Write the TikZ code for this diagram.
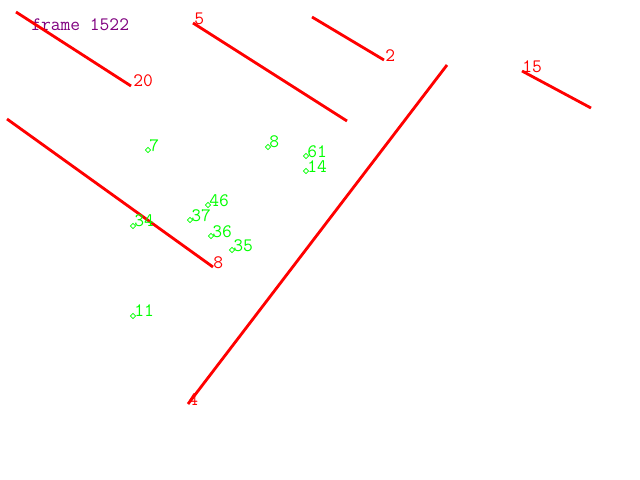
\documentclass[tikz,border=0pt]{standalone}
\usetikzlibrary{shapes.geometric}

\begin{document}
\begin{tikzpicture}[x=0.025cm,y=-0.025cm,
		seg/.style={draw=red,line width=2pt},
		seglbl/.style={anchor=base west,inner sep=0pt,text depth=0pt,text=red,font=\ttfamily\fontsize{13.5}{14}\selectfont},
		pt/.style={draw=green,diamond,inner sep=0pt,minimum size=0.14cm,line width=0.5pt},
		ptlbl/.style={anchor=base west,inner sep=0pt,text depth=0pt,text=green,font=\ttfamily\fontsize{13.5}{14}\selectfont}]
		\useasboundingbox[fill=white] (0,0) rectangle (640,480);
		\node[anchor=base west,inner sep=0pt,text={rgb,255:red,128;green,0;blue,128},font=\ttfamily\fontsize{13.5}{14}\selectfont] (frame) at (31,30) {frame 1522};
		% red segments
		\coordinate (a20) at (16,12);  \coordinate (b20) at (131,86);
		\draw[seg] (a20) -- (b20);
		\node[seglbl] (l20) at (133,87) {20};
		\coordinate (a5) at (193,23);  \coordinate (b5) at (347,121);
		\draw[seg] (a5) -- (b5);
		\node[seglbl] (l5) at (194,24) {5};
		\coordinate (a2) at (312,17);  \coordinate (b2) at (384,60);
		\draw[seg] (a2) -- (b2);
		\node[seglbl] (l2) at (385,61) {2};
		\coordinate (a15) at (522,71);  \coordinate (b15) at (591,108);
		\draw[seg] (a15) -- (b15);
		\node[seglbl] (l15) at (522,72) {15};
		\coordinate (a4) at (188,404);  \coordinate (b4) at (447,65);
		\draw[seg] (a4) -- (b4);
		\node[seglbl] (l4) at (188,405) {4};
		\coordinate (a8) at (7,119);  \coordinate (b8) at (213,267);
		\draw[seg] (a8) -- (b8);
		\node[seglbl] (l8) at (213,268) {8};
		% green points
		\node[pt] (p7) at (148,150) {};   \node[ptlbl] (q7) at (149,151) {7};
		\node[pt] (p8) at (268,147) {};   \node[ptlbl] (q8) at (269,147) {8};
		\node[pt] (p61) at (306,156) {};  \node[ptlbl] (q61) at (307,157) {61};
		\node[pt] (p14) at (306,171) {};  \node[ptlbl] (q14) at (307,172) {14};
		\node[pt] (p46) at (208,205) {};  \node[ptlbl] (q46) at (209,206) {46};
		\node[pt] (p37) at (190,220) {};  \node[ptlbl] (q37) at (191,221) {37};
		\node[pt] (p34) at (133,226) {};  \node[ptlbl] (q34) at (134,226) {34};
		\node[pt] (p36) at (211,236) {};  \node[ptlbl] (q36) at (212,237) {36};
		\node[pt] (p35) at (232,250) {};  \node[ptlbl] (q35) at (233,251) {35};
		\node[pt] (p11) at (133,316) {};  \node[ptlbl] (q11) at (134,316) {11};
	\end{tikzpicture}
\end{document}
